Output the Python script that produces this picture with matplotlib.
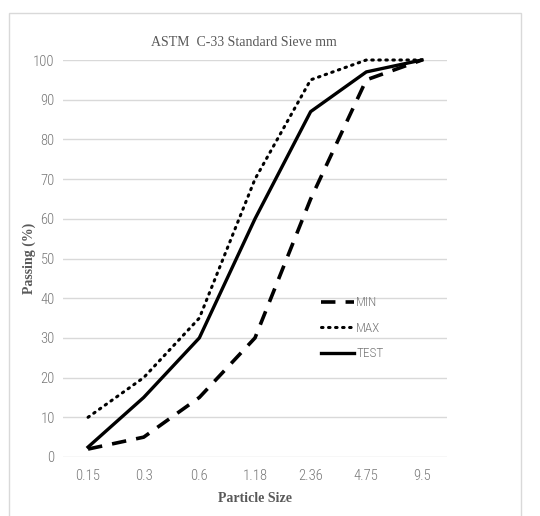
import matplotlib
matplotlib.use("Agg")
import matplotlib.pyplot as plt
from matplotlib.patches import Rectangle

sizes = ["0.15", "0.3", "0.6", "1.18", "2.36", "4.75", "9.5"]
min_vals = [2, 5, 15, 30, 65, 95, 100]
max_vals = [10, 20, 35, 70, 95, 100, 100]
test_vals = [2.5, 15, 30, 60, 87, 97, 100]
yticks = [0, 10, 20, 30, 40, 50, 60, 70, 80, 90, 100]

sans = ["Liberation Sans Narrow", "Roboto Condensed", "Roboto", "DejaVu Sans"]
serif = ["Liberation Serif", "DejaVu Serif"]
gray = "#595959"
tickgray = "#777777"

fig = plt.figure(figsize=(5.40, 5.16), dpi=100)
fig.patches.append(Rectangle((9/540, -0.05), 512/540, 1.05 - 13/516,
                             transform=fig.transFigure, fill=False,
                             edgecolor="#d9d9d9", linewidth=1.0))

ax = fig.add_axes([63/540, 59/516, 384/540, 397/516])
x = list(range(len(sizes)))
ax.plot(x, min_vals, color="black", lw=2.6, linestyle=(0, (4.0, 2.8)), label="MIN", clip_on=False)
ax.plot(x, max_vals, color="black", lw=2.2, linestyle=(0, (0.5, 1.8)), dash_capstyle="round", label="MAX", clip_on=False)
ax.plot(x, test_vals, color="black", lw=2.4, label="TEST", clip_on=False)

ax.set_xlim(-0.45, 6.45)
ax.set_ylim(0, 100)
ax.set_yticks(yticks)
ax.set_xticks(x)
ax.set_xticklabels(sizes)
ax.grid(axis="y", color="#d9d9d9", lw=1.0)
ax.set_axisbelow(True)
for s in ax.spines.values():
    s.set_visible(False)
ax.tick_params(length=0, colors=tickgray, labelsize=10.5, pad=6)
ax.tick_params(axis="x", pad=9)
for lab in ax.get_xticklabels() + ax.get_yticklabels():
    lab.set_family(sans)
    lab.set_fontweight("light")

ax.set_title("ASTM  C-33 Standard Sieve mm", family=serif, fontsize=10, color=gray, pad=10, x=0.47)
ax.set_xlabel("Particle Size", family=serif, fontsize=10, fontweight="bold", color=gray, labelpad=6)
ax.set_ylabel("Passing (%)", family=serif, fontsize=10, fontweight="bold", color=gray, labelpad=-2)

leg = ax.legend(loc="upper left", bbox_to_anchor=(0.64, 0.435), frameon=False,
                prop={"family": sans, "size": 9.5, "weight": "light"}, handlelength=2.5,
                handletextpad=0.2, labelspacing=0.95)
for t in leg.get_texts():
    t.set_color(tickgray)

fig.savefig("out.png", dpi=100)
